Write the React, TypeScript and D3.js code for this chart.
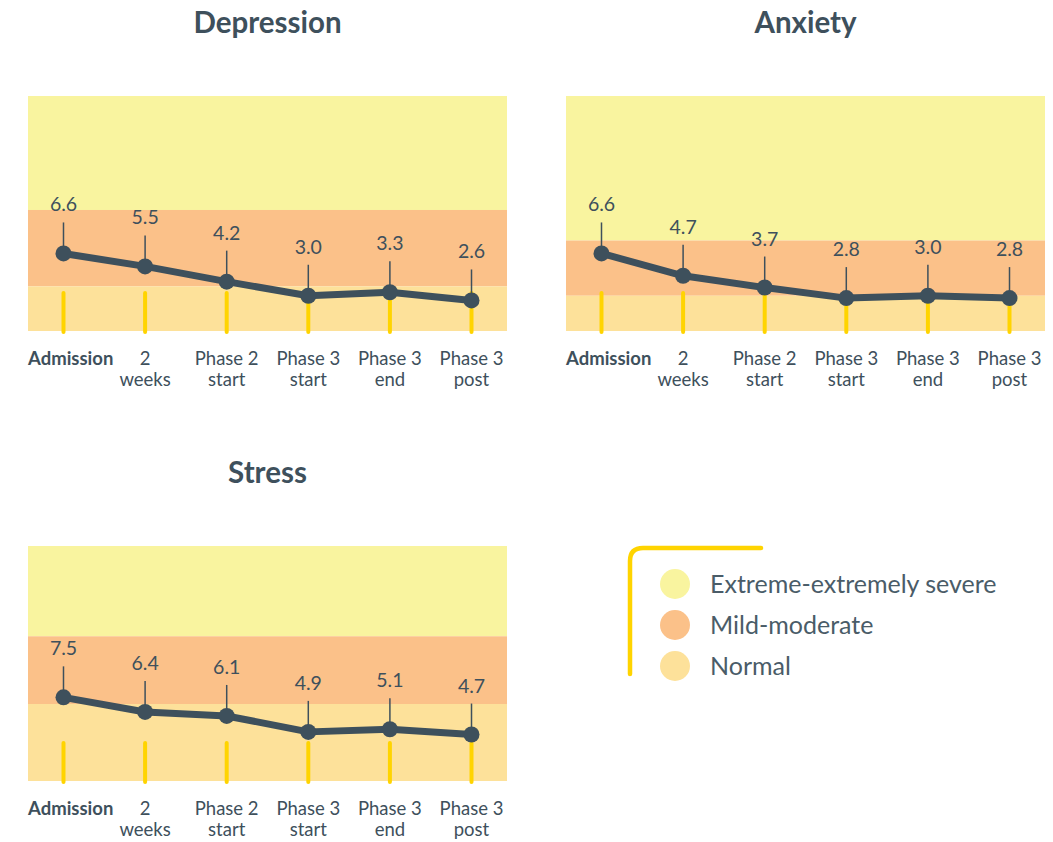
import React from 'react';
import * as d3 from 'd3';

const categories = ['Admission', '2|weeks', 'Phase 2|start', 'Phase 3|start', 'Phase 3|end', 'Phase 3|post'];

const depression = [6.6, 5.5, 4.2, 3.0, 3.3, 2.6];
const anxiety = [6.6, 4.7, 3.7, 2.8, 3.0, 2.8];
const stress = [7.5, 6.4, 6.1, 4.9, 5.1, 4.7];

// band thresholds: [normal upper, mild-moderate upper]
const depressionBands = [3.8, 10.3];
const anxietyBands = [3.0, 7.7];
const stressBands = [7.0, 12.1];

const depressionDomain = [0, 20];
const anxietyDomain = [0, 20];
const stressDomain = [1.2, 18.9];

const bandNames = ['Extreme-extremely severe', 'Mild-moderate', 'Normal'];
const bandColors = ['#f9f49f', '#fbc189', '#fde19a'];

const ink = '#3e505c';
const accent = '#ffd400';
const font = 'Lato, "Open Sans", sans-serif';

const W = 479;
const H = 235;

interface PanelProps {
  title: string;
  values: number[];
  bands: number[];
  domain: number[];
  left: number;
  top: number;
}

const Panel: React.FC<PanelProps> = ({ title, values, bands, domain, left, top }) => {
  const x = d3.scalePoint<string>().domain(categories).range([0, W]).padding(0.435);
  const y = d3.scaleLinear().domain(domain).range([H, 0]);
  const line = d3.line<number>()
    .x((d, i) => x(categories[i])!)
    .y((d) => y(d));

  const bandRects = [
    { c: bandColors[0], y0: 0, y1: y(bands[1]) },
    { c: bandColors[1], y0: y(bands[1]), y1: y(bands[0]) },
    { c: bandColors[2], y0: y(bands[0]), y1: H },
  ];

  return (
    <g transform={`translate(${left},${top})`}>
      <text x={W / 2} y={-63} textAnchor="middle" fontSize={29.5} fontWeight={700} fill={ink}>{title}</text>
      {bandRects.map((b, i) => (
        <rect key={i} x={0} y={b.y0} width={W} height={b.y1 - b.y0} fill={b.c} />
      ))}
      {categories.map((c) => (
        <line key={'t' + c} x1={x(c)} x2={x(c)} y1={H - 38} y2={H + 1} stroke={accent} strokeWidth={4} strokeLinecap="round" />
      ))}
      {values.map((v, i) => (
        <line key={'p' + i} x1={x(categories[i])} x2={x(categories[i])} y1={y(v)} y2={y(v) - 31} stroke={ink} strokeWidth={1.5} />
      ))}
      <path d={line(values)!} fill="none" stroke={ink} strokeWidth={7} strokeLinejoin="round" />
      {values.map((v, i) => (
        <circle key={'c' + i} cx={x(categories[i])} cy={y(v)} r={8} fill={ink} />
      ))}
      {values.map((v, i) => (
        <text key={'v' + i} x={x(categories[i])} y={y(v) - 42} textAnchor="middle" fontSize={19.5} fill={ink}>{v.toFixed(1)}</text>
      ))}
      {categories.map((c, i) => {
        const parts = c.split('|');
        const first = i === 0;
        return (
          <text key={'l' + c} x={first ? 0 : x(c)} y={H + 34} textAnchor={first ? 'start' : 'middle'}
            fontSize={18.5} fontWeight={first ? 700 : 400} fill={ink}>
            {parts.map((p, j) => (
              <tspan key={j} x={first ? 0 : x(c)} dy={j === 0 ? 0 : 21}>{p}</tspan>
            ))}
          </text>
        );
      })}
    </g>
  );
};

const Legend: React.FC<{ left: number; top: number }> = ({ left, top }) => {
  const r = 13;
  const frame = `M${left},${top + 126} L${left},${top + r} Q${left},${top} ${left + r},${top} L${left + 131},${top}`;
  return (
    <g>
      <path d={frame} fill="none" stroke={accent} strokeWidth={4.5} strokeLinecap="round" />
      {bandNames.map((n, i) => (
        <g key={n} transform={`translate(${left + 45},${top + 36 + i * 41})`}>
          <circle cx={0} cy={0} r={15} fill={bandColors[i]} />
          <text x={35} y={8.5} fontSize={25} fill="#4a5c68">{n}</text>
        </g>
      ))}
    </g>
  );
};

export default function App() {
  return (
    <svg width={1053} height={842} style={{ position: 'absolute', left: 0, top: 0, background: '#fff' }} fontFamily={font}>
      <Panel title="Depression" values={depression} bands={depressionBands} domain={depressionDomain} left={28} top={96} />
      <Panel title="Anxiety" values={anxiety} bands={anxietyBands} domain={anxietyDomain} left={566} top={96} />
      <Panel title="Stress" values={stress} bands={stressBands} domain={stressDomain} left={28} top={546} />
      <Legend left={630} top={548} />
    </svg>
  );
}
